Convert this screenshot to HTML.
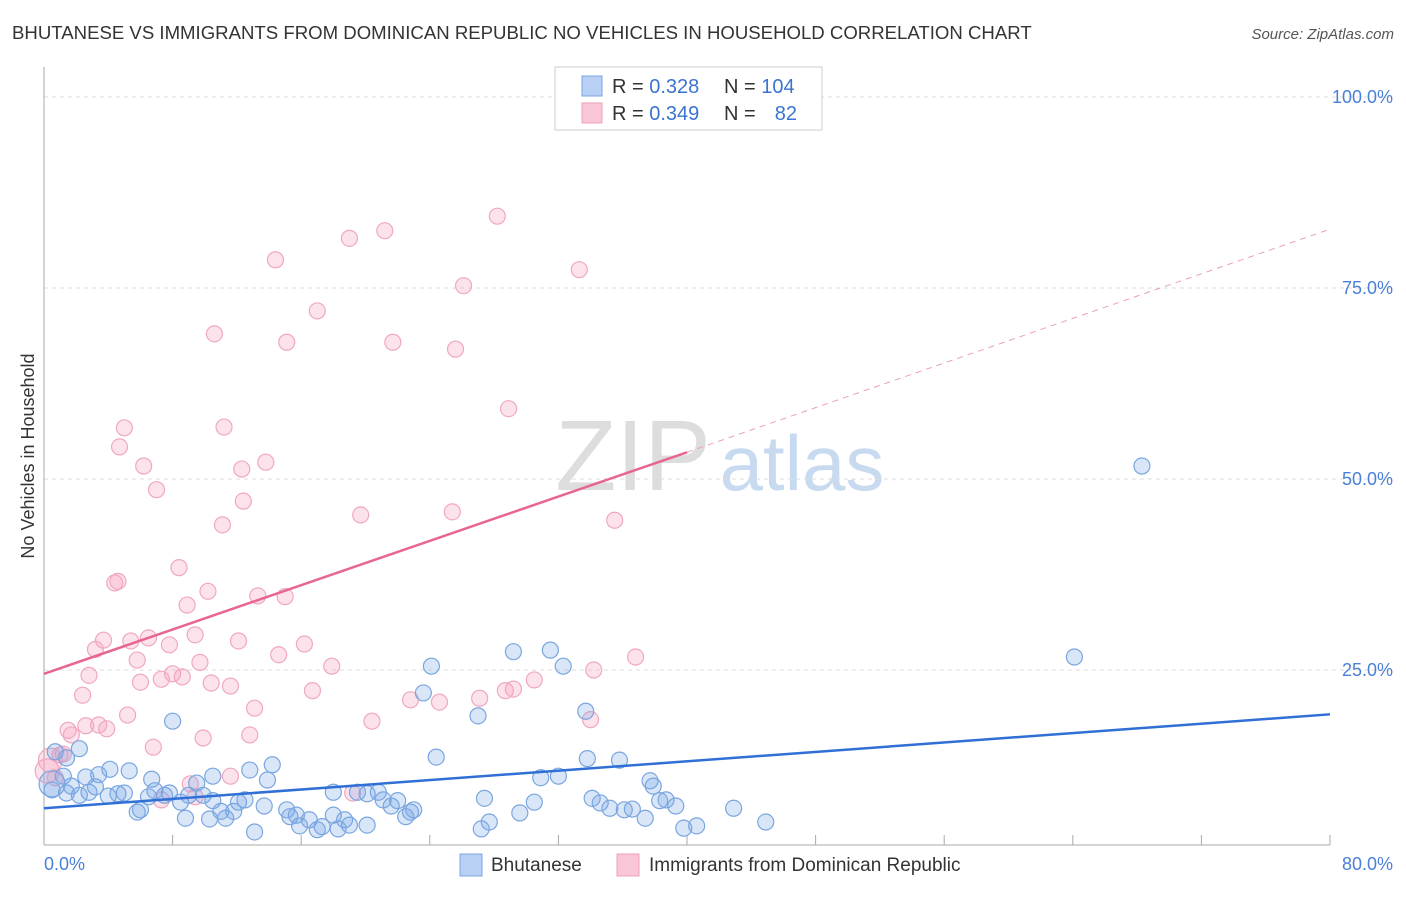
<!DOCTYPE html>
<html><head><meta charset="utf-8"><style>
body{margin:0;background:#fff;font-family:"Liberation Sans",sans-serif}
svg text{font-family:"Liberation Sans",sans-serif}
</style></head><body>
<svg width="1406" height="892" id="c">
<text x="12" y="39" font-size="18.6" fill="#333">BHUTANESE VS IMMIGRANTS FROM DOMINICAN REPUBLIC NO VEHICLES IN HOUSEHOLD CORRELATION CHART</text>
<text x="1394" y="39" font-size="15" fill="#555" font-style="italic" text-anchor="end">Source: ZipAtlas.com</text>
<text x="34" y="456" font-size="18" fill="#333" transform="rotate(-90 34 456)" text-anchor="middle">No Vehicles in Household</text>
<text x="633" y="490" font-size="100" fill="#ddd" font-family="Liberation Serif" text-anchor="middle">ZIP</text>
<text x="802" y="490" font-size="78" fill="#c8daf0" text-anchor="middle">atlas</text>
<g id="grid"></g><g id="marks"></g>
<g>
<rect x="555" y="67" width="267" height="63" fill="#fff" stroke="#ccc"/>
<rect x="582" y="76" width="20" height="20" fill="#b8d0f4" stroke="#7aa6e0"/>
<text x="612" y="93" font-size="20" fill="#333">R = <tspan fill="#3a74d0">0.328</tspan></text>
<text x="724" y="93" font-size="20" fill="#333">N = <tspan fill="#3a74d0">104</tspan></text>
<rect x="582" y="103" width="20" height="20" fill="#f8c6d6" stroke="#eea0ba"/>
<text x="612" y="120" font-size="20" fill="#333">R = <tspan fill="#3a74d0">0.349</tspan></text>
<text x="724" y="120" font-size="20" fill="#333">N = </text>
<text x="797" y="120" font-size="20" fill="#3a74d0" text-anchor="end">82</text>
</g>
<g>
<rect x="460" y="854" width="22" height="22" fill="#b8d0f4" stroke="#7aa6e0"/>
<text x="491" y="871" font-size="19" fill="#333">Bhutanese</text>
<rect x="617" y="854" width="22" height="22" fill="#f8c6d6" stroke="#eea0ba"/>
<text x="649" y="871" font-size="19" fill="#333">Immigrants from Dominican Republic</text>
</g>
</svg>
<script>
const yTicks=[25,50,75,100];
const yTickLabels=["25.0%","50.0%","75.0%","100.0%"];
const xTickVals=[8,16,24,32,40,48,56,64,72,80];
const blueTrend=[[0,6.9],[80,19.2]];
const pinkTrend=[[0,24.5],[40,53.5]];
const pinkTrendExt=[[40,53.5],[80,82.7]];
const pinkX=[28.2,21.2,19.0,33.3,14.4,26.1,17.0,10.6,15.1,21.7,25.6,28.9,5.0,11.2,4.7,6.2,13.8,12.3,7.0,12.4,19.7,25.4,35.5,11.1,8.4,4.4,4.6,10.2,8.9,13.3,15.0,3.7,6.5,5.4,7.8,9.4,12.1,16.2,3.2,5.8,9.7,14.6,2.8,17.9,8.0,8.6,6.0,7.3,10.4,11.6,16.7,2.4,13.1,30.5,34.2,36.8,28.7,29.2,27.1,22.8,24.6,5.2,20.4,34.0,1.5,2.6,3.4,3.9,1.7,6.8,9.9,12.8,1.0,1.2,0.2,0.7,9.1,11.6,7.3,9.4,19.2,0.4];
const pinkY=[84.4,82.5,81.5,77.4,78.7,75.3,72.0,69.0,67.9,67.9,67.0,59.2,56.7,56.8,54.2,51.7,52.2,51.3,48.6,47.1,45.3,45.7,44.6,44.0,38.4,36.4,36.6,35.3,33.5,34.7,34.6,28.9,29.2,28.8,28.3,29.6,28.8,28.4,27.7,26.3,26.0,27.0,24.3,25.5,24.5,24.1,23.4,23.8,23.3,22.9,22.3,21.7,20.0,23.7,25.0,26.7,22.3,22.5,21.3,21.1,20.8,19.1,18.3,18.5,17.1,17.7,17.8,17.3,16.5,14.9,16.1,16.5,13.9,14.0,11.8,10.9,10.1,11.1,8.0,8.4,8.9,13.2];
const blueX=[68.3,64.1,31.5,29.2,24.1,32.3,23.6,27.0,33.7,8.0,24.4,33.8,35.8,0.7,2.2,1.4,1.2,0.5,1.7,2.6,3.4,4.1,5.3,6.7,10.5,12.8,14.2,13.9,9.5,7.8,6.9,7.5,3.2,2.8,4.6,5.0,4.0,5.8,6.0,6.5,8.5,9.0,9.9,10.5,11.0,11.8,12.1,12.5,13.7,15.1,15.7,16.5,15.3,17.3,17.0,15.9,18.0,18.7,19.0,19.5,20.1,20.8,21.1,21.6,22.0,22.8,22.5,23.0,18.0,18.3,20.1,27.4,27.7,27.2,29.6,30.5,30.9,32.0,34.1,34.6,35.2,36.1,36.6,37.4,37.7,37.9,38.3,38.7,39.3,39.8,40.6,42.9,44.9,8.8,13.1,10.3,11.3,1.4,2.2,0.5];
const blueY=[51.7,26.7,27.6,27.4,25.5,25.5,22.0,19.0,19.6,18.3,13.6,13.4,13.2,14.3,14.7,13.5,11.1,10.1,9.8,11.0,11.3,12.0,11.8,10.7,11.1,11.9,12.6,10.6,10.2,8.9,9.2,8.6,9.7,9.0,8.8,8.9,8.5,6.4,6.7,8.4,7.7,8.6,8.6,7.9,6.5,6.5,7.7,8.0,7.2,6.7,6.0,5.4,5.8,4.5,4.1,4.6,6.0,5.4,4.7,9.0,8.8,9.0,8.0,7.2,7.9,6.4,5.8,6.7,9.0,4.2,4.7,8.2,5.1,4.2,6.3,7.7,10.9,11.1,8.2,7.6,6.9,6.7,6.8,5.6,10.5,9.8,7.9,8.0,7.2,4.3,4.6,6.9,5.1,5.6,3.8,5.5,5.6,8.9,8.6,9.3];
const sx=v=>44+v*16.075, sy=v=>861-v*7.64;
const NS="http://www.w3.org/2000/svg";
function mk(t,a,p){const e=document.createElementNS(NS,t);for(const k in a)e.setAttribute(k,a[k]);p.appendChild(e);return e;}
const g=document.getElementById('grid'), m=document.getElementById('marks');
yTicks.forEach((v,i)=>{
 const l=mk('line',{x1:44,x2:1394,y1:sy(v),y2:sy(v),stroke:'#ddd','stroke-dasharray':'4,4'},g);
 
 
 const t=mk('text',{x:1393,y:sy(v)+6,'font-size':18,fill:'#4a80d8','text-anchor':'end'},g);t.textContent=yTickLabels[i];
 
 
});
const ax=mk('line',{x1:44,x2:1330,y1:845,y2:845,stroke:'#aaa'},g);


const ay=mk('line',{x1:44,x2:44,y1:67,y2:845,stroke:'#aaa'},g);


xTickVals.forEach(v=>{const l=mk('line',{x1:sx(v),x2:sx(v),y1:835,y2:845,stroke:'#aaa'},g);
 
 });
const x0=mk('text',{x:44,y:870,'font-size':18,fill:'#4a80d8'},g);x0.textContent='0.0%';


const x1=mk('text',{x:1393,y:870,'font-size':18,fill:'#4a80d8','text-anchor':'end'},g);x1.textContent='80.0%';


pinkX.forEach((x,i)=>{const c=mk('circle',{cx:sx(x),cy:sy(pinkY[i]),r:(x<0.5?12:8),fill:'rgba(244,160,190,0.3)',stroke:'#f0a8c0','stroke-width':1.2},m);
 
 });
blueX.forEach((x,i)=>{const c=mk('circle',{cx:sx(x),cy:sy(blueY[i]),r:(x<0.6&&blueY[i]>9.5?13:8),fill:'rgba(120,165,230,0.28)',stroke:'#7aa6e0','stroke-width':1.2},m);
 
 });
const bt=mk('line',{x1:sx(blueTrend[0][0]),y1:sy(blueTrend[0][1]),x2:sx(blueTrend[1][0]),y2:sy(blueTrend[1][1]),stroke:'#2f6fd6','stroke-width':2.5},m);


const pt=mk('line',{x1:sx(pinkTrend[0][0]),y1:sy(pinkTrend[0][1]),x2:sx(pinkTrend[1][0]),y2:sy(pinkTrend[1][1]),stroke:'#e8658f','stroke-width':2.5},m);


const pe=mk('line',{x1:sx(pinkTrendExt[0][0]),y1:sy(pinkTrendExt[0][1]),x2:sx(pinkTrendExt[1][0]),y2:sy(pinkTrendExt[1][1]),stroke:'#e8a0b8','stroke-width':1,'stroke-dasharray':'6,5'},m);


</script>
</body></html>
